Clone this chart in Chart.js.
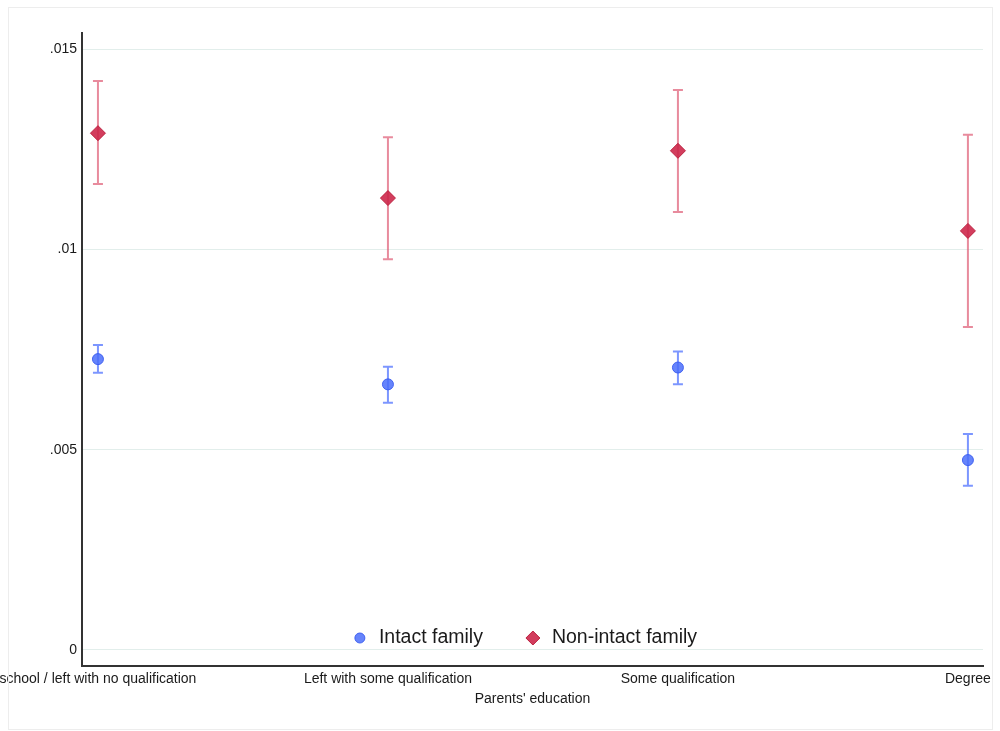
<!DOCTYPE html>
<html>
<head>
<meta charset="utf-8">
<script src="https://cdn.jsdelivr.net/npm/chart.js@4.4.0/dist/chart.umd.min.js"></script>
<style>
    html, body { margin: 0; padding: 0; background: #fff; }
    #wrap { position: relative; width: 1000px; height: 731px; }
    #frame { position: absolute; left: 8px; top: 7px; width: 983px; height: 721px; border: 1px solid #ededed; pointer-events: none; }
    canvas { position: absolute; left: 0; top: 0; }
</style>
</head>
<body>
<div id="wrap">
    <canvas id="chart" width="1000" height="731"></canvas>
    <div id="frame"></div>
</div>
<script>
// Data
const categories = ['school / left with no qualification', 'Left with some qualification', 'Some qualification', 'Degree'];
const intactMean = [0.00726, 0.00663, 0.00705, 0.00474];
const intactLow = [0.00692, 0.00617, 0.00663, 0.00410];
const intactHigh = [0.00761, 0.00707, 0.00745, 0.00539];
const nonIntactMean = [0.01290, 0.01128, 0.01246, 0.01046];
const nonIntactLow = [0.01163, 0.00975, 0.01093, 0.00806];
const nonIntactHigh = [0.01420, 0.01280, 0.01398, 0.01286];
const yTicks = [0, 0.005, 0.01, 0.015];

const FONT = "'Liberation Sans', Arial, sans-serif";

function points(means) {
    return means.map((v, i) => ({ x: i, y: v }));
}

// Error bars drawn under the markers
const errorBars = {
    id: 'errorBars',
    beforeDatasetsDraw(chart) {
        const ctx = chart.ctx;
        const yScale = chart.scales.y;
        chart.data.datasets.forEach((ds, i) => {
            const meta = chart.getDatasetMeta(i);
            ctx.save();
            ctx.strokeStyle = ds.errorColor;
            ctx.lineWidth = 2;
            meta.data.forEach((pt, j) => {
                const top = yScale.getPixelForValue(ds.high[j]);
                const bot = yScale.getPixelForValue(ds.low[j]);
                ctx.beginPath();
                ctx.moveTo(pt.x, top);
                ctx.lineTo(pt.x, bot);
                ctx.moveTo(pt.x - 5, top);
                ctx.lineTo(pt.x + 5, top);
                ctx.moveTo(pt.x - 5, bot);
                ctx.lineTo(pt.x + 5, bot);
                ctx.stroke();
            });
            ctx.restore();
        });
    }
};

// Legend sitting inside the plot, near the bottom
const innerLegend = {
    id: 'innerLegend',
    afterDraw(chart) {
        const ctx = chart.ctx;
        const area = chart.chartArea;
        const y = area.bottom - 28;
        ctx.save();
        ctx.font = '19.5px ' + FONT;
        ctx.textBaseline = 'middle';
        const items = chart.data.datasets.map(ds => ({ ds, w: ctx.measureText(ds.label).width }));
        const textGap = 19, itemGap = 50;
        let total = 0;
        items.forEach((it, i) => { total += 5 + textGap + it.w + (i ? itemGap - 5 : 0); });
        let x = (area.left + area.right) / 2 - 6.5 - total / 2;
        items.forEach((it, i) => {
            const cx = i ? x + itemGap : x + 5;
            ctx.fillStyle = it.ds.backgroundColor;
            ctx.strokeStyle = it.ds.borderColor;
            ctx.lineWidth = 1;
            ctx.beginPath();
            if (it.ds.pointStyle === 'rectRot') {
                ctx.moveTo(cx, y - 7);
                ctx.lineTo(cx + 7, y);
                ctx.lineTo(cx, y + 7);
                ctx.lineTo(cx - 7, y);
                ctx.closePath();
            } else {
                ctx.arc(cx, y, 5, 0, Math.PI * 2);
            }
            ctx.fill();
            ctx.stroke();
            ctx.fillStyle = '#1a1a1a';
            ctx.fillText(it.ds.label, cx + textGap, y);
            x = cx + textGap + it.w;
        });
        ctx.restore();
    }
};

new Chart(document.getElementById('chart'), {
    type: 'scatter',
    data: {
        datasets: [{
            label: 'Intact family',
            data: points(intactMean),
            low: intactLow,
            high: intactHigh,
            pointStyle: 'circle',
            pointRadius: 5.5,
            pointHoverRadius: 5.5,
            backgroundColor: 'rgba(75, 110, 250, 0.85)',
            borderColor: 'rgba(55, 90, 240, 0.9)',
            borderWidth: 1,
            errorColor: 'rgba(80, 115, 255, 0.75)'
        }, {
            label: 'Non-intact family',
            data: points(nonIntactMean),
            low: nonIntactLow,
            high: nonIntactHigh,
            pointStyle: 'rectRot',
            pointRadius: 7.5,
            pointHoverRadius: 7.5,
            backgroundColor: 'rgba(205, 40, 75, 0.9)',
            borderColor: 'rgba(185, 30, 60, 0.95)',
            borderWidth: 1,
            errorColor: 'rgba(222, 90, 115, 0.7)'
        }]
    },
    options: {
        responsive: false,
        animation: false,
        layout: {
            padding: { top: 33, right: 17, left: 0, bottom: 23 }
        },
        plugins: {
            legend: { display: false },
            tooltip: { enabled: false }
        },
        scales: {
            x: {
                type: 'linear',
                min: -0.055,
                max: 3.052,
                afterBuildTicks: scale => {
                    scale.ticks = categories.map((c, i) => ({ value: i }));
                },
                afterFit: scale => {
                    scale.height = 42;
                    scale.paddingLeft = 0;
                    scale.paddingRight = 0;
                },
                grid: { display: false, drawTicks: false },
                border: { display: true, color: '#333', width: 2 },
                ticks: {
                    autoSkip: false,
                    maxRotation: 0,
                    padding: 5,
                    color: '#1a1a1a',
                    font: { family: FONT, size: 14 },
                    callback: value => categories[value]
                },
                title: {
                    display: true,
                    text: "Parents' education",
                    color: '#1a1a1a',
                    font: { family: FONT, size: 14 },
                    padding: { top: 2, bottom: 0 }
                }
            },
            y: {
                min: -0.0004,
                max: 0.0154,
                afterBuildTicks: scale => {
                    scale.ticks = yTicks.map(v => ({ value: v }));
                },
                afterFit: scale => {
                    scale.width = 82;
                },
                grid: { color: '#e2eeeb', lineWidth: 1, drawTicks: false },
                border: { display: true, color: '#333', width: 2 },
                ticks: {
                    padding: 5,
                    color: '#1a1a1a',
                    font: { family: FONT, size: 14 },
                    callback: value => value === 0 ? '0' : String(value).replace(/^0/, '')
                }
            }
        }
    },
    plugins: [errorBars, innerLegend]
});
</script>
</body>
</html>
